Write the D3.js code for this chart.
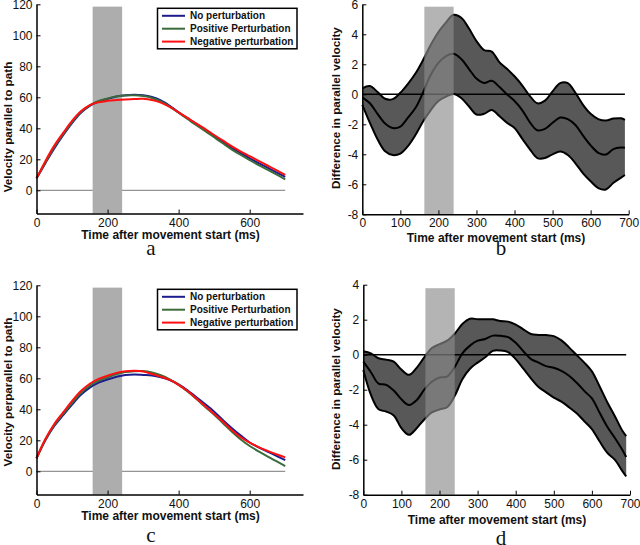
<!DOCTYPE html>
<html><head><meta charset="utf-8">
<script src="https://cdn.jsdelivr.net/npm/d3@7"></script>
<style>body{margin:0;background:#fff}svg{display:block}</style>
</head><body>
<svg id="chart" width="640" height="545"></svg>
<script>
// ---------- data ----------
const timeAC = [0,25,50,75,100,125,150,175,200,225,250,275,300,325,350,375,400,425,450,475,500,525,550,575,600,625,650,675,700];
const aNone = [7.7,17.5,27,35.5,43.3,50,54.5,57.3,59,60.5,61.3,61.6,61.3,60.2,58,54.5,50.3,46.5,42.8,39.2,35.2,31.3,27.3,24,20.6,17.6,14.6,11.6,8.6];
const aPos  = [7.7,18,28,36.2,44,50.5,54.8,57.6,59.3,60.6,61.2,61.3,60.8,59.6,57.3,54,50,46,42,38.2,34.2,30.2,26.3,22.8,19.5,16.3,13.3,10.2,7.1];
const aNeg  = [7.7,18.8,28.8,37,44.8,51,55,56.8,57.7,58.2,58.6,58.9,59,58.3,56.6,53.8,50.3,46.7,43,39.5,35.7,32,28.3,25,22,19,16,13,9.9];
const cNone = [8.4,20,29.2,36.2,43,49.3,54,57.2,59.2,61,62.2,62.5,62.2,61.8,60.7,58.9,56.1,52.3,47.8,43.3,38.5,33,27.8,23,18.6,15.5,12.7,10,7.2];
const cPos  = [8.4,20.4,29.8,37,44,50.5,55.2,58.5,60.5,62.7,64,64.6,64.7,63.8,62,59.3,55.8,51.5,46.7,41.5,36.5,31,25.5,20.5,16.3,12.8,9.6,6.5,3.4];
const cNeg  = [8.4,20.8,30.5,38,45.3,51.8,56.5,59.6,61.7,63.5,64.5,64.8,64.4,62.8,61,59,55.8,51.8,47,42,37,32,26.5,22,18.5,15.6,13.2,11,9];

const timeBD = [0,20,40,60,80,100,120,140,160,180,200,220,240,260,280,300,320,340,360,380,400,420,440,460,480,500,520,540,560,580,600,620,640,660,680,690];
const bUpper = [0.4,0.55,0.15,-0.3,-0.32,0.1,0.7,1.4,2.3,3.3,4.15,4.8,5.3,5.1,4.4,3.55,2.95,2.85,2.15,1.7,1.2,0.6,-0.1,-0.6,-0.42,0.2,0.75,0.75,0.1,-0.7,-1.3,-1.65,-1.75,-1.62,-1.6,-1.7];
const bMean  = [-0.2,-0.6,-1.3,-1.95,-2.25,-2.15,-1.55,-0.9,0.15,1.3,2.1,2.55,2.7,2.35,1.7,1.05,0.75,0.9,0.5,0.0,-0.45,-1.05,-1.85,-2.4,-2.3,-1.9,-1.55,-1.65,-2.05,-2.75,-3.4,-3.9,-4.02,-3.65,-3.55,-3.56];
const bLower = [-0.7,-1.9,-3.0,-3.8,-4.05,-3.95,-3.45,-2.7,-1.8,-1.05,-0.45,-0.15,0.02,-0.25,-0.8,-1.35,-1.3,-1.05,-1.45,-1.9,-2.25,-2.95,-3.65,-4.25,-4.25,-4.0,-3.82,-4.05,-4.6,-5.27,-5.8,-6.25,-6.35,-5.9,-5.55,-5.38];
const dUpper = [0.2,0.08,-0.2,-0.28,-0.4,-0.85,-1.15,-0.75,-0.15,0.38,0.6,0.8,1.2,1.75,2.05,2.03,2.02,2.02,1.92,1.89,1.72,1.45,1.18,1.13,1.12,1.06,0.82,0.42,-0.02,-0.45,-0.95,-1.8,-2.7,-3.5,-4.35,-4.65];
const dMean  = [-0.4,-1.0,-1.65,-1.72,-2.05,-2.55,-2.88,-2.6,-2.0,-1.55,-1.3,-1.25,-0.7,0.08,0.52,0.8,0.9,1.09,1.08,1.0,0.68,0.2,-0.25,-0.45,-0.65,-0.75,-0.92,-1.2,-1.6,-2.07,-2.5,-3.3,-4.1,-4.75,-5.45,-5.85];
const dLower = [-0.88,-2.3,-3.12,-3.25,-3.47,-4.2,-4.58,-4.2,-3.7,-3.3,-3.13,-3.0,-2.35,-1.4,-0.8,-0.45,-0.15,0.22,0.24,0.15,-0.25,-0.8,-1.35,-1.85,-2.15,-2.45,-2.68,-3.0,-3.35,-3.8,-4.25,-4.95,-5.6,-6.0,-6.65,-6.95];

const velXTicks = [0,200,400,600];
const velYTicks = [0,20,40,60,80,100,120];
const diffXTicks = [0,100,200,300,400,500,600,700];
const bYTicks = [-8,-6,-4,-2,0,2,4,6];
const dYTicks = [-8,-6,-4,-2,0,2,4];
const legendLabels = ["No perturbation","Positive Perturbation","Negative perturbation"];
const seriesColors = ["#1c1c8c","#3b6b3b","#ff1010"];
const xTitle = "Time after movement start (ms)";
const velTitles = ["Velocity parallel to path","Velocity perparallel to path"];
const diffTitle = "Difference in parallel velocity";
const panelLetters = ["a","b","c","d"];
const windowAC = [158,241];
const windowBD = [163,240];

// ---------- drawing ----------
const svg = d3.select("#chart");
const FONT = "'Liberation Sans', Arial, sans-serif";

function styleAxis(g){
  g.select(".domain").attr("stroke","#000").attr("stroke-width",1.5);
  g.selectAll(".tick line").attr("stroke","#000").attr("stroke-width",1);
  g.selectAll(".tick text").attr("font-family",FONT).attr("font-size",12).attr("fill","#111");
}

function axes(x, y, xt, yt, yTop){
  const gx = svg.append("g").attr("transform",`translate(0,${y.range()[0]})`)
    .call(d3.axisBottom(x).tickValues(xt).tickSizeInner(-4).tickSizeOuter(0).tickPadding(4.5).tickFormat(d3.format("d")));
  styleAxis(gx);
  const gy = svg.append("g").attr("transform",`translate(${x.range()[0]},0)`)
    .call(d3.axisLeft(y).tickValues(yt).tickSizeInner(-4).tickSizeOuter(0).tickPadding(4).tickFormat(d=>d3.format("d")(d).replace("−","-")));
  styleAxis(gy);
}

function titles(cx, by, yx, yc, ytxt, letter, lx, ly){
  svg.append("text").attr("x",cx).attr("y",by).attr("text-anchor","middle")
    .attr("font-family",FONT).attr("font-weight","bold").attr("font-size",12).attr("fill","#111").text(xTitle);
  svg.append("text").attr("transform",`translate(${yx},${yc}) rotate(-90)`).attr("text-anchor","middle")
    .attr("font-family",FONT).attr("font-weight","bold").attr("font-size",11.7).attr("fill","#111").text(ytxt);
  svg.append("text").attr("x",lx).attr("y",ly).attr("text-anchor","middle")
    .attr("font-family","'Liberation Serif','Times New Roman',serif").attr("font-size",21).attr("fill","#111").text(letter);
}

function velPanel(p){
  const x = d3.scaleLinear().domain([0,750]).range([36.5,303]);
  const y = d3.scaleLinear().domain([-15,120]).range([p.y0+23.25, p.y0-186]);
  // zero line
  svg.append("line").attr("x1",x(0)).attr("x2",x(700)).attr("y1",y(0)).attr("y2",y(0))
    .attr("stroke","#7a7a7a").attr("stroke-width",1);
  // window bar
  svg.append("rect").attr("x",x(windowAC[0])).attr("width",x(windowAC[1])-x(windowAC[0]))
    .attr("y",y(118.5)).attr("height",y(-15)-y(118.5)).attr("fill","#adadad");
  const line = d3.line().x((d,i)=>x(timeAC[i])).y(d=>y(d)).curve(d3.curveCatmullRom.alpha(0.5));
  p.series.forEach((s,i)=>{
    svg.append("path").attr("d",line(s)).attr("fill","none").attr("stroke",seriesColors[i]).attr("stroke-width",2);
  });
  axes(x,y,velXTicks,velYTicks);
  // legend
  const lg = svg.append("g");
  lg.append("rect").attr("x",157.5).attr("y",p.legY).attr("width",139.5).attr("height",40.5)
    .attr("fill","#fff").attr("stroke","#000").attr("stroke-width",1.5);
  legendLabels.forEach((lab,i)=>{
    const yy = p.legY+7.5+i*12.9;
    lg.append("line").attr("x1",162).attr("x2",185).attr("y1",yy).attr("y2",yy)
      .attr("stroke",seriesColors[i]).attr("stroke-width",2);
    lg.append("text").attr("x",190).attr("y",yy+3.6).attr("font-family",FONT).attr("font-weight","bold")
      .attr("font-size",10).attr("fill","#111").text(lab);
  });
  titles(170.5, p.y0+48.5, 12, p.yc, p.ytitle, p.letter, 151, p.letterY);
}

function diffPanel(p){
  const x = d3.scaleLinear().domain([0,700]).range(p.xr);
  const y = d3.scaleLinear().domain(p.ydom).range(p.yr);
  const area = d3.area().x((d,i)=>x(timeBD[i])).y0((d,i)=>y(p.lower[i])).y1(d=>y(d)).curve(d3.curveCatmullRom.alpha(0.5));
  const line = d3.line().x((d,i)=>x(timeBD[i])).y(d=>y(d)).curve(d3.curveCatmullRom.alpha(0.5));
  svg.append("path").attr("d",area(p.upper)).attr("fill","#585858");
  [p.upper,p.mean,p.lower].forEach(s=>{
    svg.append("path").attr("d",line(s)).attr("fill","none").attr("stroke","#000").attr("stroke-width",2);
  });
  svg.append("line").attr("x1",x(0)).attr("x2",x(690)).attr("y1",y(0)).attr("y2",y(0))
    .attr("stroke","#000").attr("stroke-width",1.6);
  svg.append("rect").attr("x",x(windowBD[0])).attr("width",x(windowBD[1])-x(windowBD[0]))
    .attr("y",y(p.barTop)).attr("height",y(p.ydom[0])-y(p.barTop)).attr("fill","#8c8c8c").attr("fill-opacity",0.65);
  axes(x,y,diffXTicks,p.yticks);
  titles(p.tcx, p.tby, 339.5, p.yc, diffTitle, p.letter, 501, p.letterY);
}

velPanel({y0:190.3, series:[aNone,aPos,aNeg], legY:8.3, yc:127, ytitle:velTitles[0], letter:panelLetters[0], letterY:255});
velPanel({y0:471.3, series:[cNone,cPos,cNeg], legY:289.3, yc:392, ytitle:velTitles[1], letter:panelLetters[2], letterY:542});
diffPanel({xr:[362.3,628.7], ydom:[-8,6], yr:[214.3,4.3], upper:bUpper, mean:bMean, lower:bLower, barTop:5.84,
  yticks:bYTicks, tcx:496, tby:241.5, yc:108, letter:panelLetters[1], letterY:255});
diffPanel({xr:[363.3,630], ydom:[-8,4], yr:[494.7,284.7], upper:dUpper, mean:dMean, lower:dLower, barTop:3.8,
  yticks:dYTicks, tcx:497, tby:524, yc:389, letter:panelLetters[3], letterY:545});
</script>
</body></html>
